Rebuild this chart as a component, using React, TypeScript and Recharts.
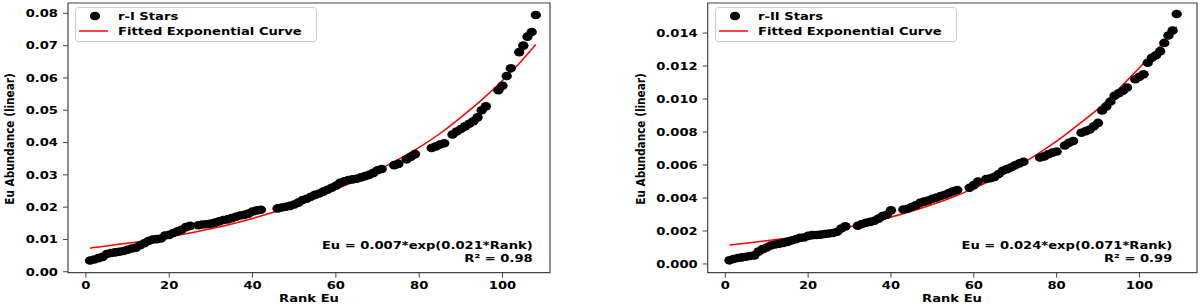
import React from 'react';
import { ComposedChart, Scatter, Line, XAxis, YAxis, ReferenceArea, Legend } from 'recharts';

// r-I panel
const rankI = [
  1, 2, 3, 4, 5, 6, 7, 8, 9, 10, 11, 12, 13, 14, 15, 16, 17, 18, 19, 20, 21, 22, 23, 24, 25,
  27, 28, 29, 30, 31, 32, 33, 34, 35, 36, 37, 38, 39, 40, 41, 42,
  46, 47, 48, 49, 50, 51, 52, 53, 54, 55, 56, 57, 58, 59, 60, 61, 62, 63, 64, 65, 66, 67, 68, 69, 70, 71,
  74, 75, 77, 78, 79, 83, 84, 85, 86,
  88, 89, 90, 91, 92, 93, 94, 95, 96, 99, 100, 101, 102, 104, 105, 106, 107, 108,
];
const euI = [
  0.0035, 0.0038, 0.0042, 0.0046, 0.0055, 0.0058, 0.006, 0.0062, 0.0064, 0.0068, 0.0072, 0.0074, 0.0082,
  0.0088, 0.0095, 0.01, 0.0101, 0.0103, 0.0112, 0.0114, 0.012, 0.0125, 0.013, 0.0138, 0.0142,
  0.0144, 0.0146, 0.0147, 0.0149, 0.0152, 0.0156, 0.016, 0.0162, 0.0166, 0.017, 0.0174, 0.0176, 0.018, 0.0186, 0.019, 0.0192,
  0.0196, 0.0199, 0.0201, 0.0204, 0.0208, 0.0214, 0.0222, 0.0226, 0.0232, 0.0238, 0.0242, 0.0248, 0.0254,
  0.026, 0.0266, 0.0275, 0.028, 0.0284, 0.0286, 0.0288, 0.0292, 0.0296, 0.03, 0.0306, 0.0314, 0.0318,
  0.033, 0.0334, 0.0348, 0.0356, 0.0364, 0.0383, 0.0388, 0.0394, 0.0398,
  0.0425, 0.0434, 0.0442, 0.045, 0.0458, 0.0466, 0.0478, 0.05, 0.0512, 0.0562, 0.0576, 0.0606, 0.063,
  0.068, 0.07, 0.0728, 0.0742, 0.0795,
];
const fitRankI = [1, 5, 10, 15, 20, 25, 30, 35, 40, 45, 50, 55, 60, 65, 70, 75, 80, 85, 90, 95, 100, 104, 108];
const fitEuI = [
  0.0073, 0.008, 0.0088, 0.0097, 0.0108, 0.012, 0.0133, 0.0148, 0.0165, 0.0184, 0.0205, 0.0229,
  0.0255, 0.0283, 0.0313, 0.0348, 0.0385, 0.0428, 0.0478, 0.0532, 0.0592, 0.0645, 0.0704,
];

// r-II panel
const rankII = [
  1, 2, 3, 4, 5, 6, 7, 8, 9, 10, 11, 12, 13, 14, 15, 16, 17, 18, 19, 20, 21, 22, 23, 24, 25, 26, 27, 28, 29,
  32, 33, 34, 35, 36, 37, 38, 39, 40,
  43, 44, 45, 46, 47, 48, 49, 50, 51, 52, 53, 54, 55, 56, 59, 60, 61,
  63, 64, 65, 66, 67, 68, 69, 70, 71, 72, 76, 77, 78, 79, 80, 82, 83, 84,
  86, 87, 88, 89, 90, 91, 92, 93, 94, 95, 96, 97, 99, 100, 101, 102, 103, 104, 105, 106, 107, 108, 109,
];
const euII = [
  0.00022, 0.0003, 0.00036, 0.0004, 0.00044, 0.00048, 0.00052, 0.00075, 0.0009, 0.001, 0.00112, 0.00118,
  0.00122, 0.00128, 0.00134, 0.00142, 0.0015, 0.00158, 0.0016, 0.0017, 0.00175, 0.00176, 0.00178, 0.00182,
  0.00185, 0.00188, 0.00195, 0.00215, 0.00228,
  0.00232, 0.00242, 0.0025, 0.00255, 0.00262, 0.00275, 0.0029, 0.00298, 0.00325,
  0.0033, 0.00335, 0.00345, 0.00355, 0.0037, 0.00378, 0.00385, 0.00395, 0.00402, 0.00412, 0.0042, 0.0043,
  0.0044, 0.00448, 0.00462, 0.00478, 0.005,
  0.00515, 0.0052, 0.00528, 0.00545, 0.00565, 0.00575, 0.00585, 0.00598, 0.0061, 0.0062,
  0.00645, 0.00652, 0.00665, 0.00675, 0.00682, 0.00718, 0.00735, 0.00745,
  0.00795, 0.00805, 0.00815, 0.00835, 0.00855, 0.0093, 0.00955, 0.00985, 0.0102, 0.01035, 0.0105, 0.0107,
  0.0112, 0.01135, 0.0115, 0.0122, 0.0125, 0.01265, 0.0129, 0.0134, 0.01385, 0.01415, 0.01515,
];
const fitRankII = [1, 5, 10, 15, 20, 25, 30, 35, 40, 45, 50, 55, 60, 65, 70, 75, 80, 85, 90, 95, 100, 105, 109];
const fitEuII = [
  0.00115, 0.00126, 0.00141, 0.00158, 0.00178, 0.002, 0.00225, 0.00253, 0.00285, 0.0032, 0.0036, 0.00406,
  0.00458, 0.00518, 0.00585, 0.0066, 0.00744, 0.0084, 0.0094, 0.0106, 0.0119, 0.0132, 0.01438,
];

const xTicks = [0, 20, 40, 60, 80, 100];
const yTicksI = [0, 0.01, 0.02, 0.03, 0.04, 0.05, 0.06, 0.07, 0.08];
const yTicksII = [0, 0.002, 0.004, 0.006, 0.008, 0.01, 0.012, 0.014];

const FONT = '"DejaVu Sans", sans-serif';
const FS = 10.5;
const SX = 1.25;
const AXIS = '#444';

function Txt({ x, y, anchor = 'middle', rotate, children }: any) {
  return (
    <text
      transform={`translate(${x},${y}) scale(${SX},1)${rotate ? ` rotate(${rotate})` : ''}`}
      textAnchor={anchor}
      dominantBaseline={rotate ? 'central' : undefined}
      fontFamily={FONT}
      fontWeight="bold"
      fontSize={FS}
      fill="#000"
    >
      {children}
    </text>
  );
}

const zip = (xs: number[], ys: number[]) => xs.map((x, i) => ({ x, y: ys[i] }));

function LegendBox({ label }: { label: string }) {
  return (
    <svg width={243} height={36} style={{ display: 'block' }}>
      <rect x={0.5} y={0.5} width={241} height={34} rx={3} fill="#fff" fillOpacity={0.8} stroke="#ccc" />
      <ellipse cx={20} cy={9} rx={5.2} ry={4.3} fill="#000" />
      <line x1={4} x2={33} y1={24} y2={24} stroke="#ff0000" strokeWidth={1.5} />
      <Txt x={43} y={12.8} anchor="start">{label}</Txt>
      <Txt x={43} y={27.8} anchor="start">Fitted Exponential Curve</Txt>
    </svg>
  );
}

interface PanelProps {
  left: number;
  yAxisWidth: number;
  marginRight: number;
  xDomain: number[];
  yDomain: number[];
  yTicks: number[];
  digits: number;
  ranks: number[];
  values: number[];
  fitRanks: number[];
  fitValues: number[];
  legendLabel: string;
  legendLeft: number;
  equation: string;
  r2: string;
  annotRight: number;
  yLabelX: number;
  xLabelX: number;
}

function Panel(p: PanelProps) {
  const pts = zip(p.ranks, p.values);
  const fit = zip(p.fitRanks, p.fitValues);
  return (
    <div style={{ position: 'absolute', left: p.left, top: 0, width: 600, height: 305 }}>
      <ComposedChart width={600} height={305} margin={{ top: 3, right: p.marginRight, bottom: 0, left: 0 }}>
        <XAxis
          type="number"
          dataKey="x"
          domain={p.xDomain}
          ticks={xTicks}
          allowDataOverflow
          height={32.3}
          tickSize={5}
          tickMargin={0}
          axisLine={false}
          tickLine={{ stroke: AXIS }}
          tick={(t: any) => <Txt x={t.x} y={t.y + 11.5}>{t.payload.value}</Txt>}
        />
        <YAxis
          type="number"
          dataKey="y"
          domain={p.yDomain}
          ticks={p.yTicks}
          allowDataOverflow
          width={p.yAxisWidth}
          tickSize={5}
          tickMargin={0}
          axisLine={false}
          tickLine={{ stroke: AXIS }}
          tick={(t: any) => (
            <Txt x={t.x - 5} y={t.y + 3.8} anchor="end">
              {Number(t.payload.value).toFixed(p.digits)}
            </Txt>
          )}
        />
        <Scatter
          data={pts}
          dataKey="y"
          fill="#000"
          isAnimationActive={false}
          shape={(s: any) => <ellipse cx={s.cx} cy={s.cy} rx={5.2} ry={4.3} fill="#000" />}
        />
        <Line
          data={fit}
          dataKey="y"
          type="monotone"
          stroke="#ff0000"
          strokeWidth={1.5}
          dot={false}
          activeDot={false}
          isAnimationActive={false}
        />
        <ReferenceArea
          x1={p.xDomain[0]}
          x2={p.xDomain[1]}
          y1={p.yDomain[0]}
          y2={p.yDomain[1]}
          fill="none"
          stroke={AXIS}
          strokeWidth={1.2}
          ifOverflow="visible"
        />
        <Legend
          layout="vertical"
          align="center"
          verticalAlign="middle"
          wrapperStyle={{ left: p.legendLeft, top: 7, width: 243, height: 36 }}
          content={() => <LegendBox label={p.legendLabel} />}
        />
      </ComposedChart>
      <svg
        width={600}
        height={305}
        style={{ position: 'absolute', left: 0, top: 0, pointerEvents: 'none' }}
      >
        <Txt x={p.annotRight} y={248.8} anchor="end">{p.equation}</Txt>
        <Txt x={p.annotRight} y={262} anchor="end">{p.r2}</Txt>
        <Txt x={p.xLabelX} y={301.5}>Rank Eu</Txt>
        <Txt x={p.yLabelX} y={139} rotate={-90}>Eu Abundance (linear)</Txt>
      </svg>
    </div>
  );
}

export default function App() {
  return (
    <div style={{ position: 'absolute', left: 0, top: 0, width: 1200, height: 305, background: '#fff' }}>
      <Panel
        left={0}
        yAxisWidth={68}
        marginRight={50}
        xDomain={[-4.3, 111.4]}
        yDomain={[-0.0003, 0.0832]}
        yTicks={yTicksI}
        digits={2}
        ranks={rankI}
        values={euI}
        fitRanks={fitRankI}
        fitValues={fitEuI}
        legendLabel="r-I Stars"
        legendLeft={75}
        equation="Eu = 0.007*exp(0.021*Rank)"
        r2="R² = 0.98"
        annotRight={532.7}
        yLabelX={10}
        xLabelX={309}
      />
      <Panel
        left={600}
        yAxisWidth={107.7}
        marginRight={3}
        xDomain={[-4.25, 113.9]}
        yDomain={[-0.00053, 0.01582]}
        yTicks={yTicksII}
        digits={3}
        ranks={rankII}
        values={euII}
        fitRanks={fitRankII}
        fitValues={fitEuII}
        legendLabel="r-II Stars"
        legendLeft={115}
        equation="Eu = 0.024*exp(0.071*Rank)"
        r2="R² = 0.99"
        annotRight={572.3}
        yLabelX={41}
        xLabelX={352}
      />
    </div>
  );
}
